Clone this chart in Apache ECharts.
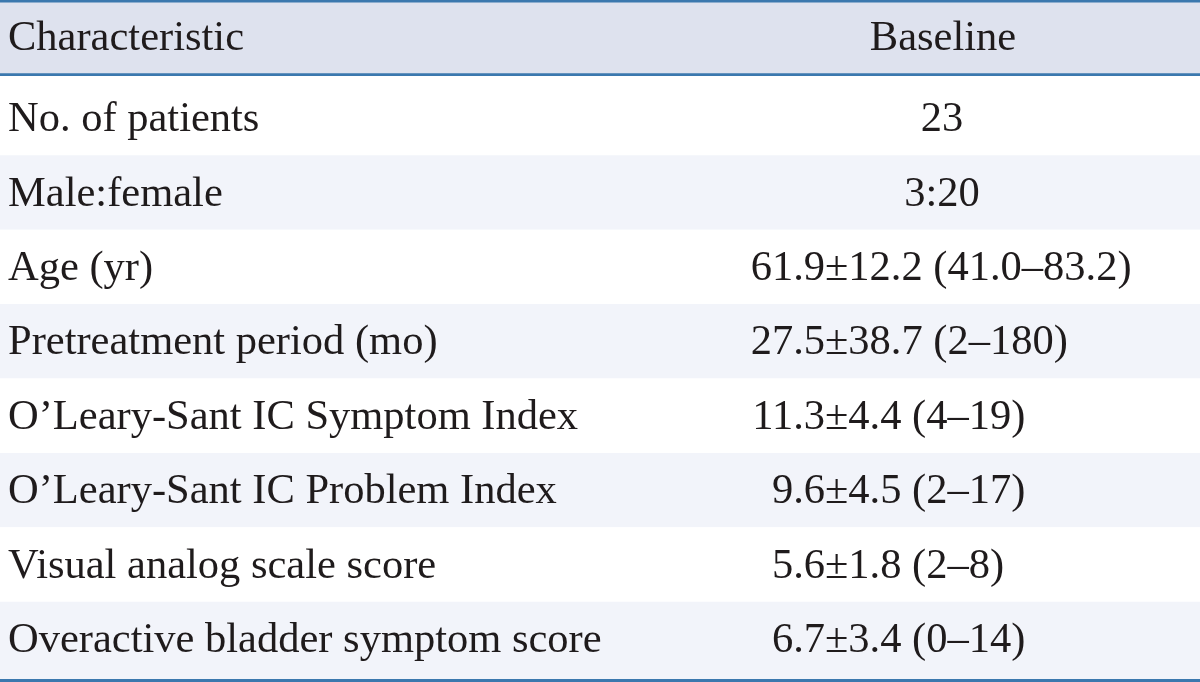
<!DOCTYPE html>
<html>
<head>
<meta charset="utf-8">
<script src="https://cdn.jsdelivr.net/npm/echarts@6/dist/echarts.min.js"></script>
<style>html,body{margin:0;padding:0;background:#fff}#c{width:1200px;height:682px}</style>
</head>
<body>
<div id="c"></div>
<script>
const headers = ['Characteristic', 'Baseline'];
const characteristics = [
  'No. of patients',
  'Male:female',
  'Age (yr)',
  'Pretreatment period (mo)',
  'O\u2019Leary-Sant IC Symptom Index',
  'O\u2019Leary-Sant IC Problem Index',
  'Visual analog scale score',
  'Overactive bladder symptom score'
];
const baselineValues = [
  '23',
  '3:20',
  '61.9\u00b112.2 (41.0\u201383.2)',
  '27.5\u00b138.7 (2\u2013180)',
  '11.3\u00b14.4 (4\u201319)',
  '9.6\u00b14.5 (2\u201317)',
  '5.6\u00b11.8 (2\u20138)',
  '6.7\u00b13.4 (0\u201314)'
];

const FONT = '"Liberation Serif", "DejaVu Serif", serif';
const FS = 42.5;
const TXT = '#1f1b1c';
const BLUE = '#3b78ae';
const BODY_MIN = -0.58, BODY_MAX = characteristics.length - 1 + 0.58;

const chart = echarts.init(document.getElementById('c'), null, {renderer: 'canvas'});

function txt(text, x, y, align) {
  return {type: 'text', style: {text: text, x: x, y: y, fill: TXT, font: FS + 'px ' + FONT, textAlign: align, textVerticalAlign: 'middle'}};
}

function renderHeader(params, api) {
  const yc = api.coord([0, 0])[1];
  const h = api.size([0, 1])[1];
  const x0 = api.coord([0, 0])[0], x1 = api.coord([1200, 0])[0];
  const top = yc - h / 2;
  return {type: 'group', children: [
    {type: 'rect', shape: {x: x0, y: top, width: x1 - x0, height: h}, style: {fill: '#dee2ee'}},
    txt(headers[0], api.coord([8, 0])[0], yc + 1, 'left'),
    txt(headers[1], api.coord([943, 0])[0], yc + 1, 'center'),
    {type: 'rect', shape: {x: x0, y: top, width: x1 - x0, height: 2.5}, style: {fill: BLUE}},
    {type: 'rect', shape: {x: x0, y: top + h - 1.7, width: x1 - x0, height: 2.8}, style: {fill: BLUE}}
  ]};
}

function renderBody(params, api) {
  const i = params.dataIndex;
  const n = characteristics.length;
  const yc = api.coord([0, i])[1];
  const yTop = api.coord([0, i === 0 ? BODY_MIN : i - 0.5])[1];
  const yBot = api.coord([0, i === n - 1 ? BODY_MAX : i + 0.5])[1];
  const x0 = api.coord([0, i])[0], x1 = api.coord([1200, i])[0];
  const children = [];
  children.push({type: 'rect', shape: {x: x0, y: yTop, width: x1 - x0, height: yBot - yTop}, style: {fill: (i % 2 === 0) ? '#ffffff' : '#f2f4fa'}});
  const ty = yc + 2;
  children.push(txt(characteristics[i], api.coord([8, i])[0], ty, 'left'));
  const v = baselineValues[i];
  const k = v.indexOf('\u00b1');
  if (k < 0) {
    children.push(txt(v, api.coord([942, i])[0], ty, 'center'));
  } else {
    const splitX = api.coord([825, i])[0];
    children.push(txt(v.slice(0, k), splitX, ty, 'right'));
    children.push(txt(v.slice(k), splitX, ty, 'left'));
  }
  if (i === n - 1) {
    children.push({type: 'rect', shape: {x: x0, y: yBot - 3, width: x1 - x0, height: 3}, style: {fill: BLUE}});
  }
  return {type: 'group', children: children};
}

chart.setOption({
  animation: false,
  backgroundColor: '#ffffff',
  grid: [
    {left: 0, right: 0, top: 0, height: 75},
    {left: 0, right: 0, top: 75, bottom: 0}
  ],
  xAxis: [
    {type: 'value', min: 0, max: 1200, show: false, gridIndex: 0},
    {type: 'value', min: 0, max: 1200, show: false, gridIndex: 1}
  ],
  yAxis: [
    {type: 'category', inverse: true, data: [headers[0]], show: false, gridIndex: 0},
    {type: 'value', inverse: true, min: BODY_MIN, max: BODY_MAX, show: false, gridIndex: 1}
  ],
  series: [
    {
      type: 'custom', xAxisIndex: 1, yAxisIndex: 1, z: 1,
      renderItem: renderBody,
      encode: {x: 0, y: 1},
      data: characteristics.map((c, i) => [0, i]),
      silent: true
    },
    {
      type: 'custom', xAxisIndex: 0, yAxisIndex: 0, z: 2,
      renderItem: renderHeader,
      encode: {x: 0, y: 1},
      data: [[0, 0]],
      silent: true
    }
  ]
});
</script>
</body>
</html>
